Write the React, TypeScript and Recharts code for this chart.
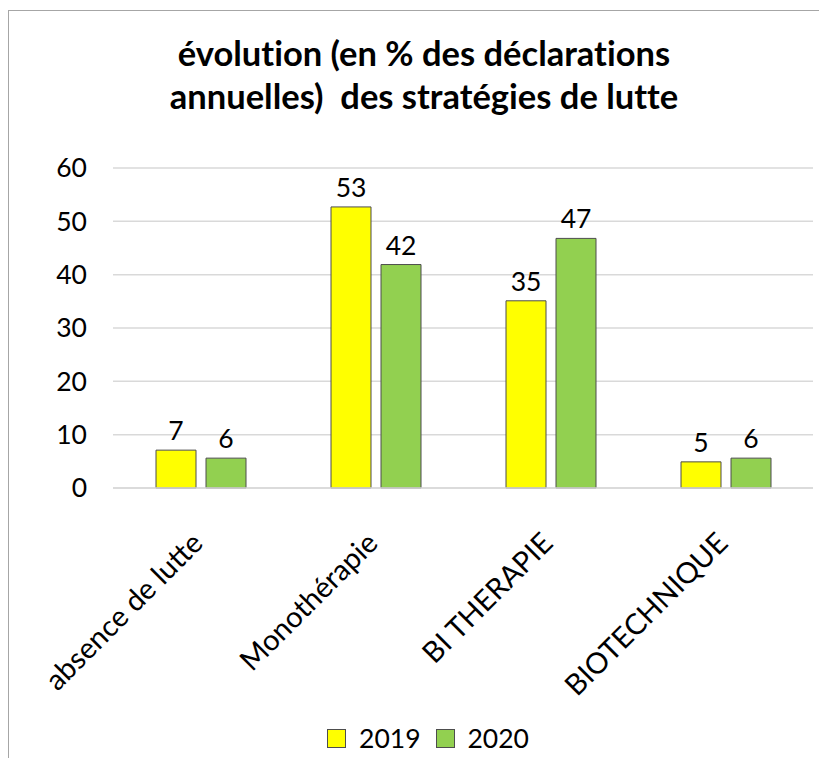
import React from "react";
import { BarChart, Bar, XAxis, YAxis, CartesianGrid, LabelList } from "recharts";

const categories = ["absence de lutte", "Monothérapie", "BI THERAPIE", "BIOTECHNIQUE"];
const values2019 = [7.1, 52.7, 35.1, 4.9];
const values2020 = [5.6, 41.9, 46.8, 5.6];
const yTicks = [0, 10, 20, 30, 40, 50, 60];
const seriesNames = ["2019", "2020"];
const seriesColors = ["#FFFF00", "#92D050"];

const data = categories.map((c, i) => ({ name: c, y2019: values2019[i], y2020: values2020[i] }));

const FONT = "Lato, 'Open Sans', sans-serif";

const XTick = (props: any) => {
  const { x, y, payload } = props;
  return (
    <g transform={`translate(${x + 4},${y + 57})`}>
      <text textAnchor="end" transform="rotate(-45)" fontSize={29} fontFamily={FONT} fill="#000">
        {payload.value}
      </text>
    </g>
  );
};

export default function App() {
  return (
    <div style={{ position: "relative", width: 819, height: 748, marginTop: 2, fontFamily: FONT }}>
      <div style={{ position: "absolute", left: 0, top: 0, width: 819, height: 1, background: "#a6a6a6" }} />
      <div style={{ position: "absolute", left: 0, top: 0, width: 1, height: 748, background: "#a6a6a6" }} />
      <div
        style={{
          position: "absolute",
          left: 0,
          top: 21,
          width: 832,
          textAlign: "center",
          fontSize: 34.5,
          fontWeight: 700,
          lineHeight: "43px",
          color: "#000",
          fontVariantLigatures: "none",
        }}
      >
        évolution (en % des déclarations
        <br />
        annuelles)&nbsp; des stratégies de lutte
      </div>
      <BarChart
        width={819}
        height={748}
        data={data}
        margin={{ top: 158, right: 14, bottom: 0, left: 0 }}
        barGap={10}
        barSize={40}
      >
        <CartesianGrid vertical={false} stroke="#d9d9d9" strokeWidth={1.5} />
        <XAxis
          dataKey="name"
          height={270}
          interval={0}
          tickLine={false}
          tickSize={0}
          tickMargin={0}
          axisLine={{ stroke: "#d9d9d9", strokeWidth: 1.5 }}
          tick={<XTick />}
        />
        <YAxis
          width={105}
          domain={[0, 60]}
          ticks={yTicks}
          axisLine={false}
          tickLine={false}
          tickSize={0}
          tickMargin={26}
          tick={{ fontSize: 26.5, fontFamily: FONT, fill: "#000" }}
        />
        <Bar dataKey="y2019" name={seriesNames[0]} fill={seriesColors[0]} stroke="#4d4d4d" strokeWidth={1} isAnimationActive={false}>
          <LabelList dataKey="y2019" position="top" offset={10} formatter={(v: any) => Math.round(v)} style={{ fontSize: 26.5, fontFamily: FONT, fill: "#000" }} />
        </Bar>
        <Bar dataKey="y2020" name={seriesNames[1]} fill={seriesColors[1]} stroke="#4d4d4d" strokeWidth={1} isAnimationActive={false}>
          <LabelList dataKey="y2020" position="top" offset={10} formatter={(v: any) => Math.round(v)} style={{ fontSize: 26.5, fontFamily: FONT, fill: "#000" }} />
        </Bar>
      </BarChart>
      <div
        style={{
          position: "absolute",
          left: 0,
          top: 712,
          width: 840,
          display: "flex",
          justifyContent: "center",
          alignItems: "center",
          fontSize: 26.5,
          color: "#000",
        }}
      >
        {seriesNames.map((n, i) => (
          <div key={n} style={{ display: "flex", alignItems: "center", marginRight: i === 0 ? 15 : 0 }}>
            <div style={{ width: 17, height: 17, background: seriesColors[i], border: "1px solid #4d4d4d", marginRight: 13 }} />
            <span>{n}</span>
          </div>
        ))}
      </div>
    </div>
  );
}
